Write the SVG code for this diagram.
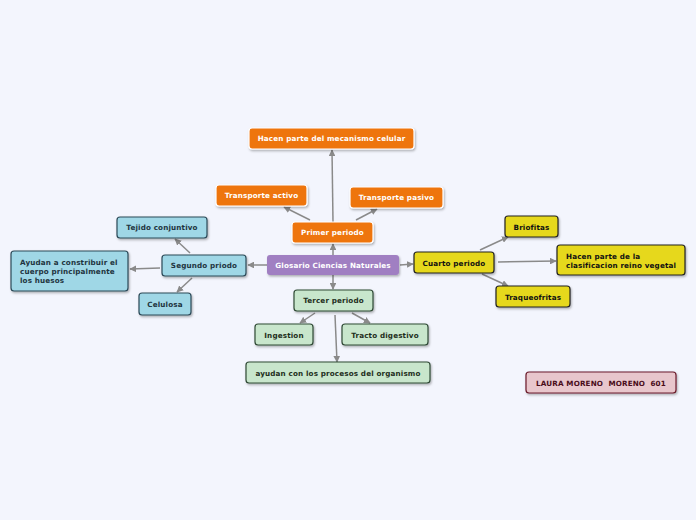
<svg xmlns="http://www.w3.org/2000/svg" width="696" height="520" viewBox="0 0 696 520">
<defs>
<filter id="sh" x="-10%" y="-30%" width="120%" height="160%"><feDropShadow dx="1" dy="1.5" stdDeviation="0.8" flood-color="#000" flood-opacity="0.3"/></filter>
<marker id="ar" viewBox="0 0 10 10" refX="9" refY="5" markerWidth="4.5" markerHeight="4.5" orient="auto"><path d="M0,0 L10,5 L0,10 z" fill="#8a8a8a"/></marker>
</defs>
<style>
text{font-family:"DejaVu Sans",Verdana,sans-serif;font-weight:bold;font-size:7.2px;letter-spacing:0.15px;white-space:pre;}
.c line{stroke:#8a8a8a;stroke-width:1.5;marker-end:url(#ar);}
.or rect{fill:#ee7410;stroke:#fff;stroke-width:1.2;filter:url(#sh);}
.or text{fill:#fff;}
.bl rect{fill:#9fd7e6;stroke:#2c4a58;stroke-width:1.2;filter:url(#sh);}
.bl text{fill:#1e3440;}
.gr rect{fill:#c8e6cc;stroke:#2f4a35;stroke-width:1.2;filter:url(#sh);}
.gr text{fill:#1e2e20;}
.ye rect{fill:#e6d81d;stroke:#222;stroke-width:1.2;filter:url(#sh);}
.ye text{fill:#111;}
.pk rect{fill:#e8c6cc;stroke:#6b1a2a;stroke-width:1.2;filter:url(#sh);}
.pk text{fill:#4a0d1a;}
</style>
<rect width="696" height="520" fill="#f3f5fd"/>
<g class="c" id="connectors">
<line x1="333" y1="255" x2="333" y2="244"/>
<line x1="333" y1="222" x2="332" y2="150"/>
<line x1="310" y1="220" x2="284" y2="207"/>
<line x1="356" y1="220" x2="377" y2="209"/>
<line x1="267" y1="265" x2="248" y2="265"/>
<line x1="190" y1="253" x2="175" y2="239"/>
<line x1="160" y1="268" x2="130" y2="269"/>
<line x1="192" y1="278" x2="177" y2="292"/>
<line x1="333" y1="275" x2="333" y2="289"/>
<line x1="315" y1="313" x2="300" y2="323"/>
<line x1="352" y1="313" x2="370" y2="323"/>
<line x1="335" y1="315" x2="337" y2="362"/>
<line x1="400" y1="265" x2="413" y2="264"/>
<line x1="480" y1="250" x2="508" y2="237"/>
<line x1="498" y1="262" x2="556" y2="261"/>
<line x1="482" y1="274" x2="508" y2="286"/>
</g>
<g id="central"><rect x="267" y="255" width="132" height="20" rx="3" fill="#a07fc2" filter="url(#sh)"/><text x="333" y="267.5" text-anchor="middle" fill="#fff">Glosario Ciencias Naturales</text></g>
<g id="primer" class="or"><rect x="292" y="222" width="81" height="21" rx="3"/><text x="332.5" y="235" text-anchor="middle">Primer periodo</text></g>
<g id="mecanismo" class="or"><rect x="249" y="128" width="165" height="21" rx="3"/><text x="331.5" y="141" text-anchor="middle">Hacen parte del mecanismo celular</text></g>
<g id="activo" class="or"><rect x="216" y="185" width="91" height="21" rx="3"/><text x="261.5" y="198" text-anchor="middle">Transporte activo</text></g>
<g id="pasivo" class="or"><rect x="350" y="187" width="93" height="21" rx="3"/><text x="396.5" y="200" text-anchor="middle">Transporte pasivo</text></g>
<g id="segundo" class="bl"><rect x="162" y="255" width="84" height="21" rx="3"/><text x="204" y="268" text-anchor="middle">Segundo priodo</text></g>
<g id="tejido" class="bl"><rect x="117" y="217" width="90" height="21" rx="3"/><text x="162" y="230" text-anchor="middle">Tejido conjuntivo</text></g>
<g id="ayudan" class="bl"><rect x="11" y="251" width="117" height="40" rx="3"/><text x="20" y="264.5">Ayudan a constribuir el</text><text x="20" y="273.5">cuerpo principalmente</text><text x="20" y="282.5">los huesos</text></g>
<g id="celulosa" class="bl"><rect x="139" y="293" width="52" height="22" rx="3"/><text x="165" y="306.5" text-anchor="middle">Celulosa</text></g>
<g id="tercer" class="gr"><rect x="294" y="290" width="79" height="21" rx="3"/><text x="333.5" y="303" text-anchor="middle">Tercer periodo</text></g>
<g id="ingestion" class="gr"><rect x="255" y="324" width="58" height="21" rx="3"/><text x="284" y="337.5" text-anchor="middle">Ingestion</text></g>
<g id="tracto" class="gr"><rect x="342" y="324" width="86" height="21" rx="3"/><text x="385" y="337.5" text-anchor="middle">Tracto digestivo</text></g>
<g id="procesos" class="gr"><rect x="246" y="362" width="184" height="21" rx="3"/><text x="338" y="375.5" text-anchor="middle">ayudan con los procesos del organismo</text></g>
<g id="cuarto" class="ye"><rect x="414" y="252" width="80" height="21" rx="3"/><text x="454" y="265.5" text-anchor="middle">Cuarto periodo</text></g>
<g id="briofitas" class="ye"><rect x="505" y="216" width="53" height="21" rx="3"/><text x="531.5" y="229.5" text-anchor="middle">Briofitas</text></g>
<g id="reino" class="ye"><rect x="557" y="245" width="128" height="30" rx="3"/><text x="566" y="258.5">Hacen parte de la</text><text x="566" y="268">clasificacion reino vegetal</text></g>
<g id="traqueofritas" class="ye"><rect x="496" y="286" width="74" height="21" rx="3"/><text x="533" y="299.5" text-anchor="middle">Traqueofritas</text></g>
<g id="autor" class="pk"><rect x="526" y="372" width="150" height="21" rx="3"/><text x="601" y="385.5" text-anchor="middle">LAURA MORENO  MORENO  601</text></g>
</svg>
